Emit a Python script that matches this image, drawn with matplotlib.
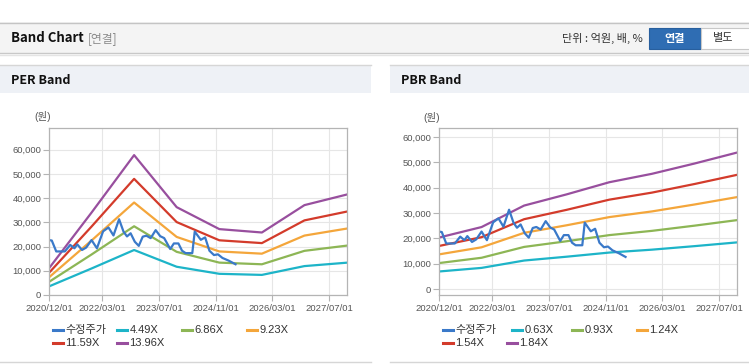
import datetime as dt
import matplotlib
matplotlib.use('Agg')
import matplotlib.pyplot as plt
import matplotlib.dates as mdates
from matplotlib.patches import Rectangle
from matplotlib.lines import Line2D
from matplotlib.ticker import FuncFormatter

plt.rcParams['font.family'] = ['Liberation Sans', 'Noto Sans CJK KR']

W, H = 749, 364

band_dates = ['2020-12-01', '2021-12-01', '2022-12-01', '2023-12-01',
              '2024-12-01', '2025-12-01', '2026-12-01', '2027-12-01']
eps = [790, 2440, 4140, 2600, 1950, 1850, 2660, 2975]
bps = [11050, 13300, 17900, 20300, 22900, 24700, 26900, 29250]
per_multiples = [4.49, 6.86, 9.23, 11.59, 13.96]
pbr_multiples = [0.63, 0.93, 1.24, 1.54, 1.84]

# adjusted price (수정주가)
price_dates = ['2020-12-01', '2020-12-25', '2021-02-01', '2021-04-16', '2021-06-01',
               '2021-07-07', '2021-08-01', '2021-09-10', '2021-10-16', '2021-12-01',
               '2022-01-16', '2022-03-10', '2022-04-25', '2022-06-07', '2022-07-25',
               '2022-09-01', '2022-10-01', '2022-11-01', '2022-12-07', '2023-01-10',
               '2023-02-13', '2023-03-16', '2023-04-22', '2023-06-04', '2023-07-13',
               '2023-08-16', '2023-10-07', '2023-11-07', '2023-12-16', '2024-01-16',
               '2024-02-16', '2024-04-13', '2024-05-04', '2024-06-25', '2024-08-01',
               '2024-09-07', '2024-10-16', '2024-11-19', '2024-12-28', '2025-02-19',
               '2025-04-19']
price = [22700, 22500, 18000, 18000, 20700,
         19300, 20900, 18600, 19600, 22700,
         19300, 26300, 27900, 24600, 31300,
         26200, 24200, 25500, 22000, 20300,
         24100, 24500, 23500, 26800, 24300,
         23500, 19000, 21300, 21300, 18300,
         17300, 17300, 26200, 22800, 23800,
         18300, 16500, 16800, 15300, 14200,
         12700]

xtick_labels = ['2020/12/01', '2022/03/01', '2023/07/01', '2024/11/01', '2026/03/01', '2027/07/01']

band_colors = ['#1db4c8', '#8db655', '#f4a63b', '#d33b2b', '#984f9e']
price_color = '#3a79c9'


def fx(x):
    return x / W


def fy(y):
    return 1 - y / H


def todate(s):
    return dt.datetime.strptime(s.replace('/', '-'), '%Y-%m-%d')


def rect(fig, x0, y0, x1, y1, **kw):
    fig.add_artist(Rectangle((fx(x0), fy(y1)), (x1 - x0) / W, (y1 - y0) / H,
                             transform=fig.transFigure, **kw))


def hline(fig, x0, x1, y, color, lw=1):
    fig.add_artist(Line2D([fx(x0), fx(x1)], [fy(y), fy(y)], transform=fig.transFigure,
                          color=color, lw=lw))


fig = plt.figure(figsize=(W / 100, H / 100), dpi=100)

# top header bar
rect(fig, 0, 22, W, 53, facecolor='#f4f4f4', edgecolor='none')
hline(fig, 0, W, 22.5, '#c4c4c4')
hline(fig, 0, W, 53, '#c8c8c8')
hline(fig, 0, W, 54.5, '#e4e4e4')
fig.text(fx(11), fy(38.5), 'Band Chart', fontsize=9.5, fontweight='bold', color='#111111',
         family=['Noto Sans CJK KR'], va='center')
fig.text(fx(88), fy(38.5), '[연결]', fontsize=8.5, color='#8a8a8a',
         family=['Noto Sans CJK KR'], va='center')
fig.text(fx(643), fy(38.5), '단위 : 억원, 배, %', fontsize=8, color='#333333',
         family=['Noto Sans CJK KR'], va='center', ha='right')
rect(fig, 649, 28, 701, 49, facecolor='#2f6db3', edgecolor='#285f9e', lw=0.8)
fig.text(fx(675), fy(38.5), '연결', fontsize=8, color='white', fontweight='bold',
         family=['Noto Sans CJK KR'], va='center', ha='center')
rect(fig, 701, 28, 752, 49, facecolor='white', edgecolor='#c8c8c8', lw=0.8)
fig.text(fx(723), fy(38.5), '별도', fontsize=8, color='#333333',
         family=['Noto Sans CJK KR'], va='center', ha='center')

# panel headers
for x0, x1, title in [(0, 371, 'PER Band'), (390, W, 'PBR Band')]:
    rect(fig, x0, 65, x1, 93, facecolor='#eef1f6', edgecolor='none')
    hline(fig, x0, x1, 65, '#d6d6d6')
    hline(fig, x0, x1, 362, '#d6d6d6')
    fig.text(fx(x0 + 11), fy(80), title, fontsize=9, fontweight='bold', color='#111111',
             family=['Noto Sans CJK KR'], va='center')

band_x = [todate(d) for d in band_dates]
price_x = [todate(d) for d in price_dates]
tick_x = [todate(d) for d in xtick_labels]

panels = [
    (49, -0, (0, 69000), eps, per_multiples, 43, 117),
    (439, -0, (-2300, 63500), bps, pbr_multiples, 432, 118),
]

axes = []
for left, _, ylim, base, mults, wx, wy in panels:
    ax = fig.add_axes([fx(left), fy(295), 298 / W, 167 / H])
    for m, c in zip(mults, band_colors):
        ax.plot(band_x, [m * v for v in base], color=c, lw=1.6, solid_joinstyle='round')
    ax.plot(price_x, price, color=price_color, lw=1.6, solid_joinstyle='round')
    ax.set_xlim(todate('2020-12-01'), todate('2027-12-01'))
    ax.set_ylim(*ylim)
    ax.set_yticks(range(0, 60001, 10000))
    ax.yaxis.set_major_formatter(FuncFormatter(lambda v, p: f'{int(v):,}'))
    ax.set_xticks(tick_x)
    ax.set_xticklabels(xtick_labels)
    ax.grid(True, color='#e6e6e6', lw=0.8)
    ax.set_axisbelow(True)
    for s in ax.spines.values():
        s.set_color('#b4b4b4')
        s.set_linewidth(0.9)
    ax.tick_params(axis='both', colors='#b4b4b4', labelcolor='#555555', labelsize=6.8,
                   length=4, width=0.8, pad=1.5)
    ax.tick_params(axis='x', pad=2.5)
    fig.text(fx(wx), fy(wy), '(원)', fontsize=7.5, color='#555555', ha='center', va='center')
    axes.append(ax)

# legends drawn by hand
legend_names_per = ['수정주가'] + [f'{m:.2f}X' for m in per_multiples]
legend_names_pbr = ['수정주가'] + [f'{m:.2f}X' for m in pbr_multiples]
legend_colors = [price_color] + band_colors
legend_pos_per = [(53, 330), (117, 330), (182, 330), (247, 330), (53, 343), (117, 343)]
legend_pos_pbr = [(443, 330), (512, 330), (572, 330), (637, 330), (443, 343), (507, 343)]

for names, pos in [(legend_names_per, legend_pos_per), (legend_names_pbr, legend_pos_pbr)]:
    for name, c, (x, y) in zip(names, legend_colors, pos):
        fig.add_artist(Line2D([fx(x), fx(x + 10)], [fy(y), fy(y)], transform=fig.transFigure,
                              color=c, lw=2.2))
        fig.text(fx(x + 12.5), fy(y), name, fontsize=8, color='#333333', va='center')

fig.savefig('out.png', dpi=100)
